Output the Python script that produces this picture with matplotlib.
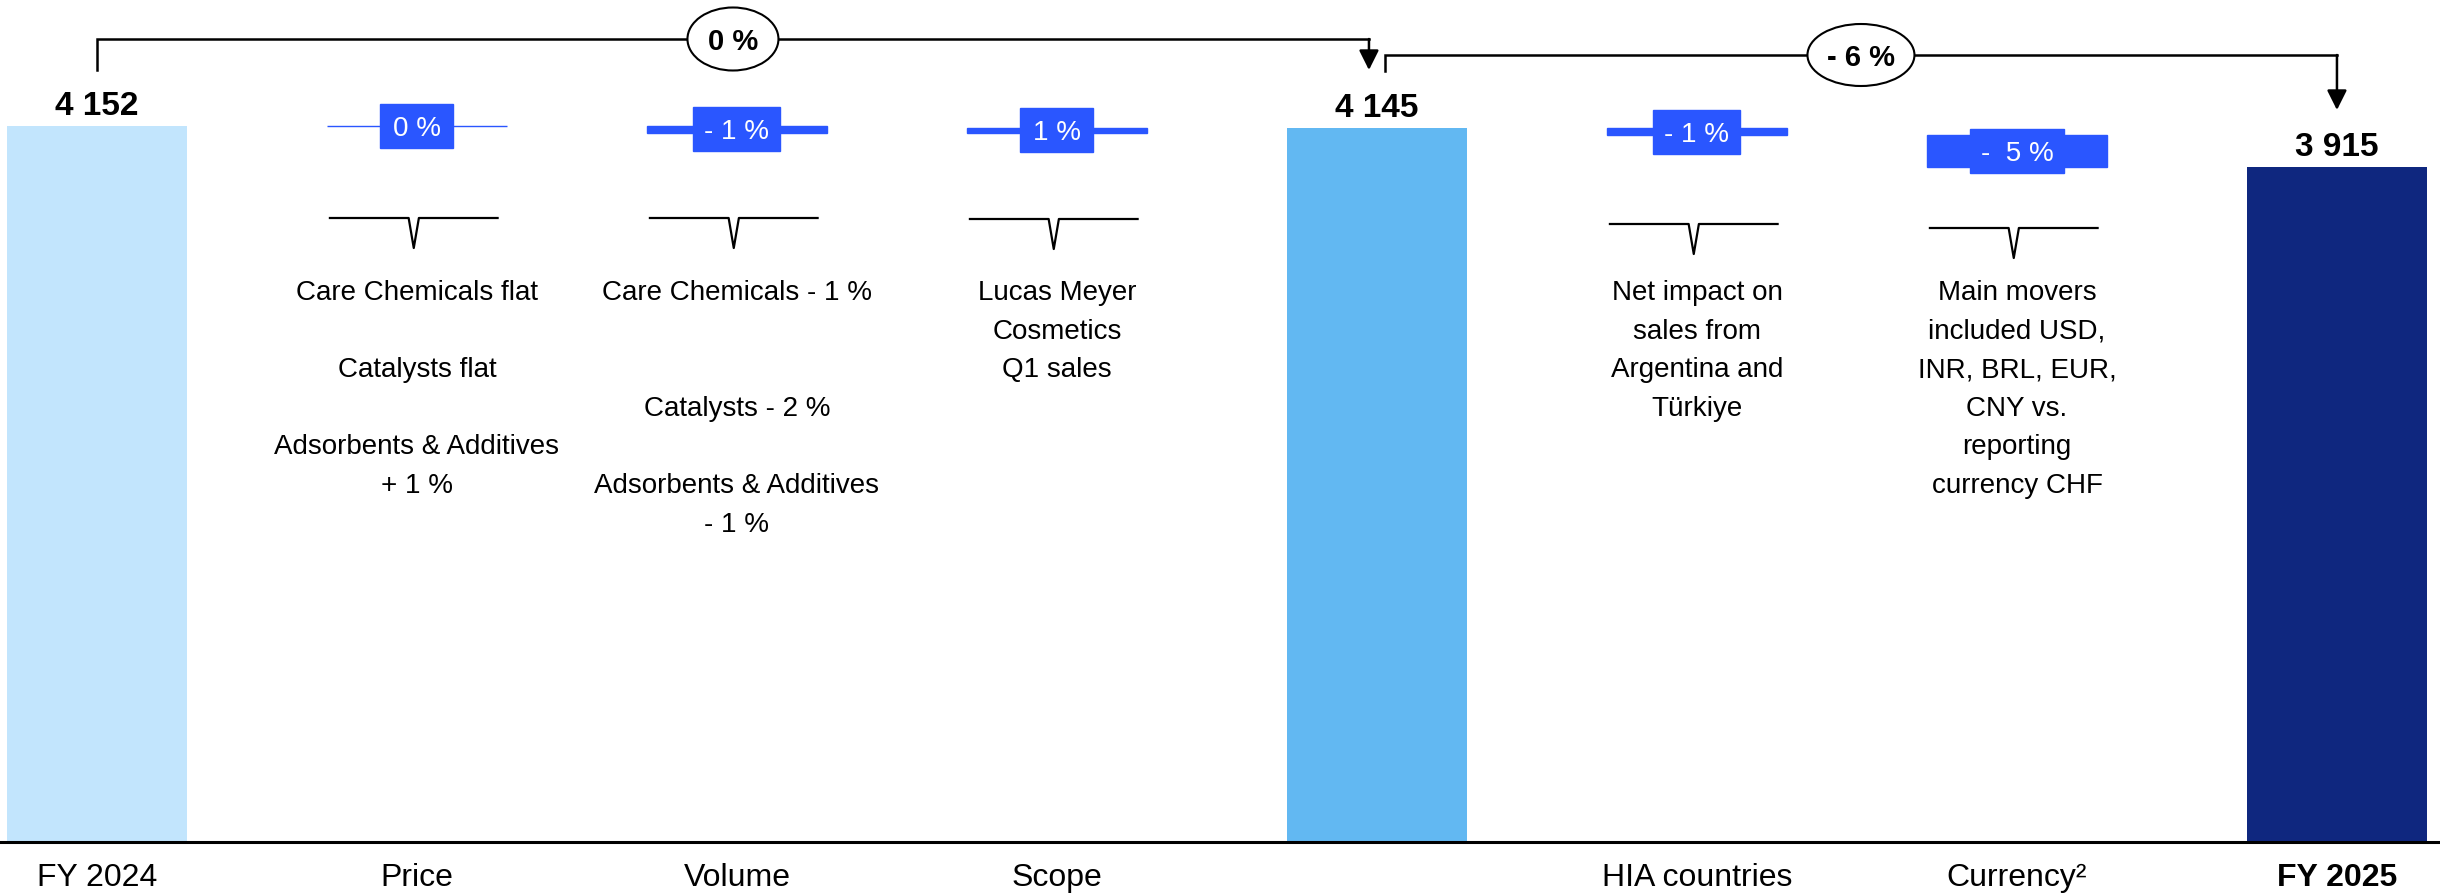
import matplotlib.pyplot as plt
from matplotlib.patches import Ellipse, Rectangle

plt.rcParams['font.family'] = ['Liberation Sans', 'DejaVu Sans']

# Sales bridge FY 2024 -> FY 2025 (CHF m)
categories = ['FY 2024', 'Price', 'Volume', 'Scope', '', 'HIA countries',
              'Currency²', 'FY 2025']
total_values = [4152, 4145, 3915]
total_x = [0, 4, 7]
total_colors = ['#C2E5FD', '#62B8F2', '#0F277F']

step_x = [1, 2, 3, 5, 6]
step_changes = [4, -41, 30, -45, -185]
step_labels = ['0 %', '- 1 %', '1 %', '- 1 %', '-  5 %']

bridge_labels = ['0 %', '- 6 %']

notes = [
    'Care Chemicals flat\n\nCatalysts flat\n\nAdsorbents & Additives\n+ 1 %',
    'Care Chemicals - 1 %\n\n\nCatalysts - 2 %\n\nAdsorbents & Additives\n- 1 %',
    'Lucas Meyer\nCosmetics\nQ1 sales',
    'Net impact on\nsales from\nArgentina and\nTürkiye',
    'Main movers\nincluded USD,\nINR, BRL, EUR,\nCNY vs.\nreporting\ncurrency CHF',
]

step_blue = '#2A56FF'
bar_width = 0.56

fig = plt.figure(figsize=(24.4, 8.93), dpi=100)
ax = fig.add_axes([0, 51 / 893, 1, 842 / 893])
trans = ax.get_xaxis_transform()


def fy(px):
    # vertical position measured in pixels from the top of the axes
    return (842 - px) / 842


# total bars
ax.bar(total_x, total_values, width=bar_width, color=total_colors, zorder=2)
for x, v in zip(total_x, total_values):
    ax.annotate(f'{v:,}'.replace(',', ' '), xy=(x, v), xytext=(0, 8),
                textcoords='offset points', ha='center', va='baseline',
                fontsize=24, fontweight='bold')

# floating steps of the bridge
running = total_values[0]
bottoms, heights = [], []
for x, chg in zip(step_x, step_changes):
    if x == 5:
        running = total_values[1]
    bottoms.append(min(running, running + chg))
    heights.append(abs(chg))
    running += chg

ax.bar(step_x, heights, bottom=bottoms, width=bar_width, color=step_blue,
       edgecolor=step_blue, linewidth=1, zorder=2)

box_h = 44 / 0.17233
for x, b, h, lab in zip(step_x, bottoms, heights, step_labels):
    mid = b + h / 2
    w = (52 + 7 * len(lab)) / 320
    ax.add_patch(Rectangle((x - w / 2, mid - box_h / 2), w, box_h,
                           color=step_blue, zorder=3))
    ax.text(x, mid, lab, ha='center', va='center_baseline', color='white',
            fontsize=20, zorder=4)

# small braces and the comments below each step
brace_px = [218, 218, 219, 224, 228]
for x, by, note in zip(step_x, brace_px, notes):
    xc = x - 0.01
    half, notch, depth = 0.262, 0.016, 30
    ax.plot([xc - half, xc - notch, xc, xc + notch, xc + half],
            [fy(by), fy(by), fy(by + depth), fy(by), fy(by)],
            transform=trans, color='black', lw=1.6, clip_on=False)
    ax.text(x, fy(280), note, transform=trans, ha='center', va='top',
            fontsize=20, linespacing=1.63)

# bridges between the totals
gap = 0.025
line_kw = dict(transform=trans, color='black', lw=1.8, clip_on=False,
               solid_joinstyle='miter')
arrow_kw = dict(arrowstyle='-|>', mutation_scale=30, lw=1.8, color='black',
                shrinkA=0, shrinkB=0)

x_a0, x_a1 = total_x[0], total_x[1] - gap
ax.plot([x_a0, x_a0, x_a1], [fy(70), fy(39), fy(39)], **line_kw)
ax.annotate('', xy=(x_a1, fy(70)), xytext=(x_a1, fy(39)), xycoords=trans,
            arrowprops=arrow_kw)

x_b0, x_b1 = total_x[1] + gap, total_x[2]
ax.plot([x_b0, x_b0, x_b1], [fy(71), fy(55), fy(55)], **line_kw)
ax.annotate('', xy=(x_b1, fy(110)), xytext=(x_b1, fy(55)), xycoords=trans,
            arrowprops=arrow_kw)

for (xa, xb, py, w_px, h_px), lab in zip(
        [(x_a0, x_a1, 39, 91, 63), (x_b0, x_b1, 55, 107, 62)], bridge_labels):
    xm = (xa + xb) / 2
    ax.add_patch(Ellipse((xm, fy(py)), w_px / 320, h_px / 842,
                         transform=trans, fc='white', ec='black', lw=1.5,
                         zorder=4))
    ax.text(xm, fy(py), lab, transform=trans, ha='center',
            va='center_baseline', fontsize=21, fontweight='bold', zorder=5)

# axes
ax.set_xlim(-0.303, 7.322)
ax.set_ylim(0, 4886)
ax.set_xticks(range(len(categories)), categories, fontsize=23)
ax.get_xticklabels()[-1].set_fontweight('bold')
ax.tick_params(axis='x', length=0, pad=15)
ax.set_yticks([])
for side in ['top', 'left', 'right']:
    ax.spines[side].set_visible(False)
ax.spines['bottom'].set_linewidth(2.2)
ax.spines['bottom'].set_zorder(5)

fig.savefig('out.png', dpi=100)
